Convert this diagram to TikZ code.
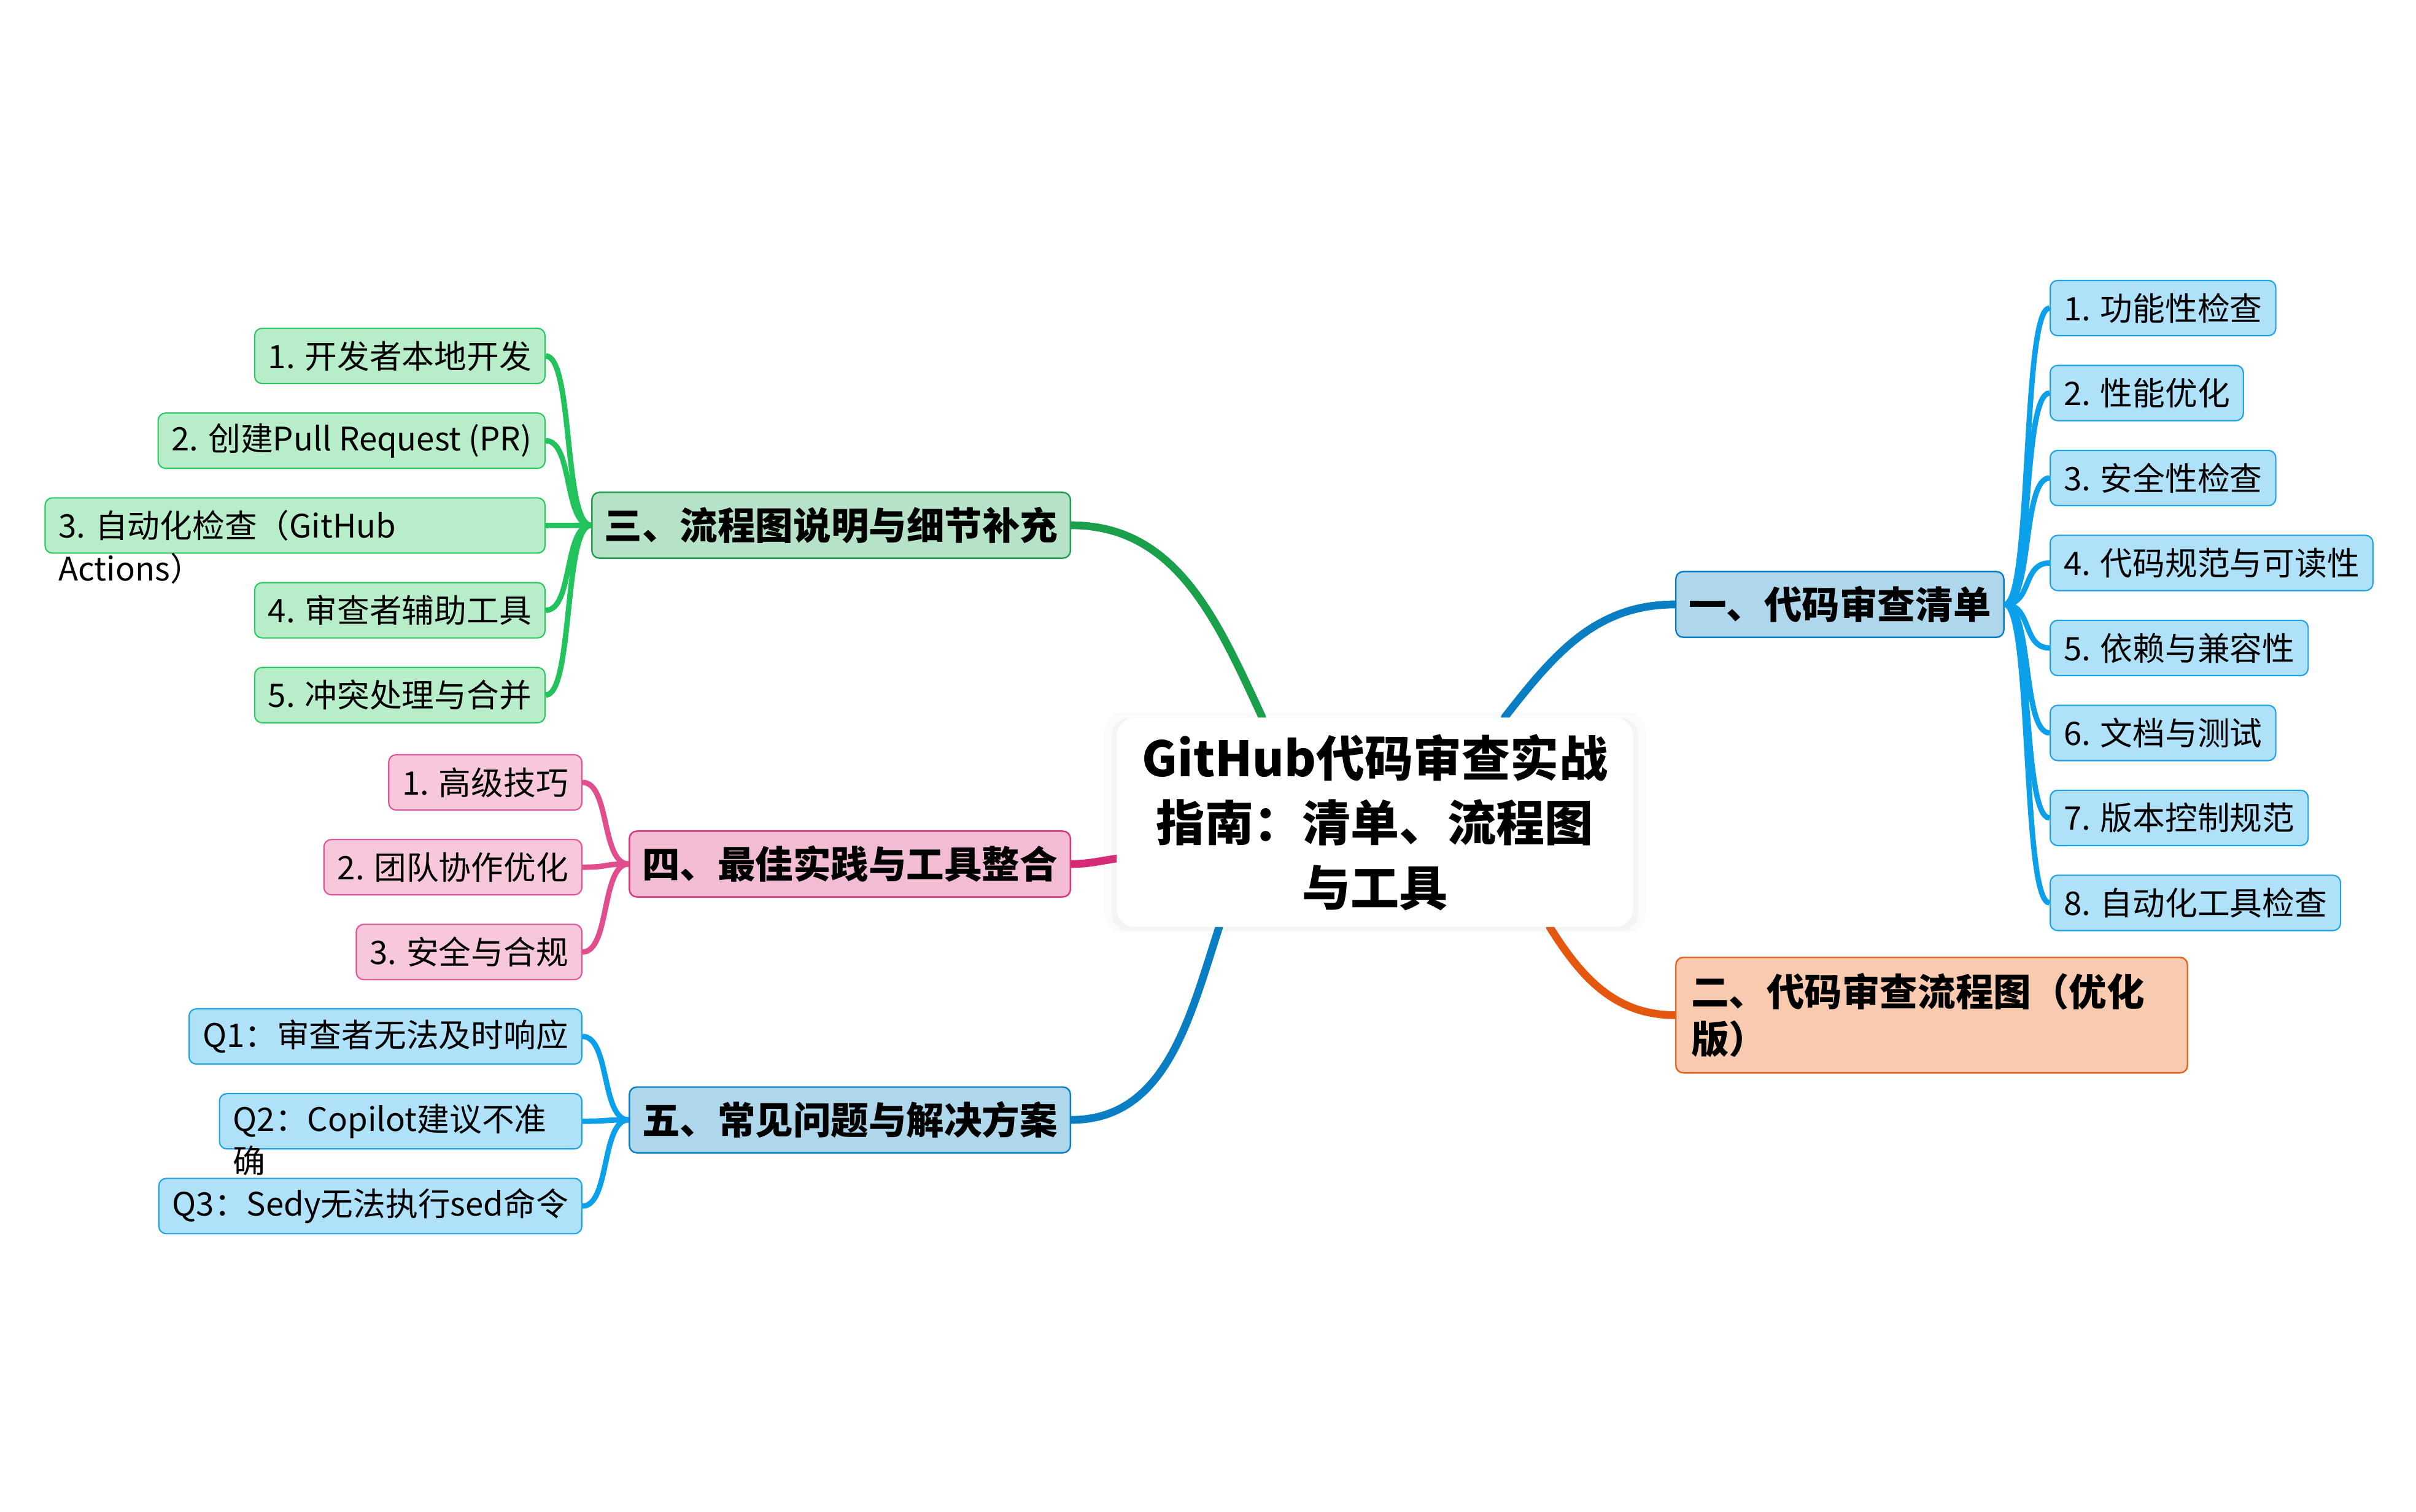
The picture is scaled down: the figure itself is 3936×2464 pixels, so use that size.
\documentclass[tikz,border=0pt]{standalone}
\usepackage{fontspec}
\setmainfont{Noto Sans CJK SC}
\usetikzlibrary{positioning, backgrounds, shadows}

\definecolor{trunkblue}{HTML}{0A7EC2}
\definecolor{trunkgreen}{HTML}{1A9F4A}
\definecolor{trunkpink}{HTML}{D82B77}
\definecolor{trunkorange}{HTML}{E4570F}
\definecolor{twigblue}{HTML}{0BA0E9}
\definecolor{twiggreen}{HTML}{22C35C}
\definecolor{twigpink}{HTML}{E24D8E}

\tikzset{
  root/.style={fill=white, rounded corners=0.3cm, minimum width=8.41cm, minimum height=3.41cm, align=center,
    font=\fontsize{22.5}{30}\selectfont\bfseries,
    drop shadow={shadow xshift=0pt, shadow yshift=0pt, shadow scale=1.05, opacity=0.03},
    drop shadow={shadow xshift=0pt, shadow yshift=-1pt, shadow scale=1.02, opacity=0.05}},
  topic/.style={draw, line width=0.7pt, rounded corners=0.12cm, minimum height=1.07cm, inner xsep=0.19cm,
    font=\fontsize{17.5}{22}\selectfont\bfseries},
  leaf/.style={draw, line width=0.6pt, rounded corners=0.12cm, minimum height=0.9cm, inner xsep=0.22cm,
    inner ysep=0.1cm, font=\fontsize{15}{20}\selectfont},
  topicblue/.style={topic, fill={rgb,255:red,175;green,215;blue,236}, draw=trunkblue},
  topicgreen/.style={topic, fill={rgb,255:red,182;green,227;blue,199}, draw={rgb,255:red,34;green,160;blue,78}},
  topicpink/.style={topic, fill={rgb,255:red,243;green,188;blue,213}, draw={rgb,255:red,217;green,53;blue,128}},
  topicorange/.style={topic, fill={rgb,255:red,248;green,203;blue,177}, draw={rgb,255:red,232;green,100;blue,30}},
  leafblue/.style={leaf, fill={rgb,255:red,175;green,225;blue,248}, draw={rgb,255:red,30;green,163;blue,232}},
  leafgreen/.style={leaf, fill={rgb,255:red,183;green,237;blue,201}, draw={rgb,255:red,46;green,200;blue,98}},
  leafpink/.style={leaf, fill={rgb,255:red,247;green,199;blue,219}, draw={rgb,255:red,228;green,82;blue,154}},
  trunk/.style={line width=3.6pt, line cap=round},
  twig/.style={line width=2.5pt}
}

\begin{document}
\begin{tikzpicture}[x=0.01cm, y=-0.01cm]

% centre
\node[root] (root) at (2240,1340) {GitHub代码审查实战\\指南：清单、流程图\\与工具};

% main topics
\node[topicblue, anchor=west, minimum width=5.34cm] (b1) at (2729,985) {一、代码审查清单};
\node[topicorange, anchor=north west, minimum height=1.88cm, inner xsep=0.25cm, text width=7.83cm, align=flush left] (b2) at (2729,1559) {二、代码审查流程图（优化\\版）};
\node[topicgreen, anchor=east, minimum width=7.79cm] (b3) at (1745,856) {三、流程图说明与细节补充};
\node[topicpink, anchor=east, minimum width=7.18cm] (b4) at (1745,1408) {四、最佳实践与工具整合};
\node[topicblue, anchor=east, minimum width=7.18cm] (b5) at (1745,1825) {五、常见问题与解决方案};

% checklist
\node[leafblue, anchor=west] (c1) at (3339,502) {1. 功能性检查};
\node[leafblue, below=0.463cm of c1.south west, anchor=north west] (c2) {2. 性能优化};
\node[leafblue, below=0.463cm of c2.south west, anchor=north west] (c3) {3. 安全性检查};
\node[leafblue, below=0.463cm of c3.south west, anchor=north west] (c4) {4. 代码规范与可读性};
\node[leafblue, below=0.463cm of c4.south west, anchor=north west] (c5) {5. 依赖与兼容性};
\node[leafblue, below=0.463cm of c5.south west, anchor=north west] (c6) {6. 文档与测试};
\node[leafblue, below=0.463cm of c6.south west, anchor=north west] (c7) {7. 版本控制规范};
\node[leafblue, below=0.463cm of c7.south west, anchor=north west] (c8) {8. 自动化工具检查};

% flow notes
\node[leafgreen, anchor=east] (d1) at (889,580) {1. 开发者本地开发};
\node[leafgreen, below=0.46cm of d1.south east, anchor=north east] (d2) {2. 创建Pull Request (PR)};
\node[leafgreen, below=0.46cm of d2.south east, anchor=north east, text width=7.70cm, align=flush left] (d3)
  {\leavevmode\rlap{\raisebox{-0.7cm}[0pt][0pt]{Actions）}}3. 自动化检查（GitHub};
\node[leafgreen, below=0.46cm of d3.south east, anchor=north east] (d4) {4. 审查者辅助工具};
\node[leafgreen, below=0.46cm of d4.south east, anchor=north east] (d5) {5. 冲突处理与合并};

% best practice
\node[leafpink, anchor=east] (e1) at (949,1275) {1. 高级技巧};
\node[leafpink, below=0.46cm of e1.south east, anchor=north east] (e2) {2. 团队协作优化};
\node[leafpink, below=0.46cm of e2.south east, anchor=north east] (e3) {3. 安全与合规};

% faq
\node[leafblue, anchor=east] (f1) at (949,1689) {Q1：审查者无法及时响应};
\node[leafblue, below=0.46cm of f1.south east, anchor=north east, text width=5.46cm, align=flush left] (f2)
  {\leavevmode\rlap{\raisebox{-0.68cm}[0pt][0pt]{确}}Q2：Copilot建议不准};
\node[leafblue, below=0.46cm of f2.south east, anchor=north east] (f3) {Q3：Sedy无法执行sed命令};

\begin{scope}[on background layer]
\path[use as bounding box, fill=white] (0,0) rectangle (3936,2464);
\draw[trunk, trunkblue] (root.39) to[out=52, in=180] (b1.west);
\draw[trunk, trunkorange] (root.-31) to[out=-58, in=180] (b2.west);
\draw[trunk, trunkgreen] (root.137) to[out=115, in=0] (b3.east);
\draw[trunk, trunkpink] (root.188) to[out=188, in=0] (b4.east);
\draw[trunk, trunkblue] (root.214) to[out=-108, in=0] (b5.east);
\end{scope}

\draw[twig, twigblue] (b1.east) .. controls +(45,0) and +(-45,0) .. (c1.west);
\draw[twig, twigblue] (b1.east) .. controls +(45,0) and +(-45,0) .. (c2.west);
\draw[twig, twigblue] (b1.east) .. controls +(45,0) and +(-45,0) .. (c3.west);
\draw[twig, twigblue] (b1.east) .. controls +(45,0) and +(-45,0) .. (c4.west);
\draw[twig, twigblue] (b1.east) .. controls +(45,0) and +(-45,0) .. (c5.west);
\draw[twig, twigblue] (b1.east) .. controls +(45,0) and +(-45,0) .. (c6.west);
\draw[twig, twigblue] (b1.east) .. controls +(45,0) and +(-45,0) .. (c7.west);
\draw[twig, twigblue] (b1.east) .. controls +(45,0) and +(-45,0) .. (c8.west);

\draw[twig, twiggreen] (b3.west) .. controls +(-45,0) and +(45,0) .. (d1.east);
\draw[twig, twiggreen] (b3.west) .. controls +(-45,0) and +(45,0) .. (d2.east);
\draw[twig, twiggreen] (b3.west) -- (d3.east);
\draw[twig, twiggreen] (b3.west) .. controls +(-45,0) and +(45,0) .. (d4.east);
\draw[twig, twiggreen] (b3.west) .. controls +(-45,0) and +(45,0) .. (d5.east);

\draw[twig, twigpink] (b4.west) .. controls +(-45,0) and +(45,0) .. (e1.east);
\draw[twig, twigpink] (b4.west) .. controls +(-45,0) and +(45,0) .. (e2.east);
\draw[twig, twigpink] (b4.west) .. controls +(-45,0) and +(45,0) .. (e3.east);

\draw[twig, twigblue] (b5.west) .. controls +(-45,0) and +(45,0) .. (f1.east);
\draw[twig, twigblue] (b5.west) .. controls +(-45,0) and +(45,0) .. (f2.east);
\draw[twig, twigblue] (b5.west) .. controls +(-45,0) and +(45,0) .. (f3.east);
\end{tikzpicture}
\end{document}
